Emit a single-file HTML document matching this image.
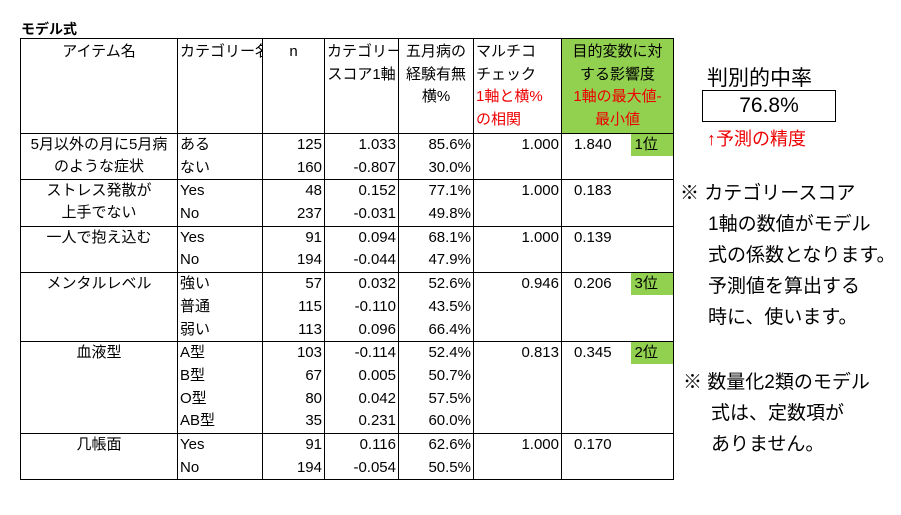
<!DOCTYPE html>
<html><head><meta charset="utf-8"><style>
body{margin:0;width:901px;height:515px;background:#fff;position:relative;overflow:hidden;font-family:"Liberation Sans","Noto Sans CJK JP",sans-serif;color:#000}
.t{position:absolute;left:20px;top:38px;width:653px;border-collapse:collapse;font-size:15px;table-layout:fixed}
.t td{border-left:1.5px solid #000;border-right:1.5px solid #000;padding:0 2px;height:22.7px;line-height:22px;white-space:nowrap;vertical-align:top;overflow:hidden}
.t thead td{border-bottom:1.5px solid #000;border-top:1.5px solid #000;height:92px;line-height:22.5px;padding-top:2px}
.t tbody{border-top:1.5px solid #000;border-bottom:1.5px solid #000}
.c{text-align:center}.r{text-align:right}.red{color:#e00}
.g{background:#92d050}
.rk{display:inline-block;background:#92d050;width:40px;text-align:left;padding-left:4px}
</style></head><body>
<div style="position:absolute;left:21px;top:19px;font-weight:bold;font-size:14px">モデル式</div>
<table class="t">
<colgroup><col style="width:157px"><col style="width:85px"><col style="width:62px"><col style="width:74px"><col style="width:75px"><col style="width:88px"><col style="width:112px"></colgroup>
<thead><tr>
<td class="c">アイテム名</td><td>カテゴリー名</td><td class="c">n</td><td class="c">カテゴリー<br>スコア1軸</td><td class="c">五月病の<br>経験有無<br>横%</td><td>マルチコ<br>チェック<br><span class="red">1軸と横%<br>の相関</span></td><td class="c g">目的変数に対<br>する影響度<br><span class="red">1軸の最大値-<br>最小値</span></td></tr></thead>
<tbody><tr><td rowspan="2" class="c">5月以外の月に5月病<br>のような症状</td><td>ある</td><td class="r">125</td><td class="r">1.033</td><td class="r">85.6%</td><td rowspan="2" class="r">1.000</td><td rowspan="2" style="padding-left:12px">1.840<span class="rk" style="margin-left:19px">1位</span></td></tr>
<tr><td>ない</td><td class="r">160</td><td class="r">-0.807</td><td class="r">30.0%</td></tr></tbody>
<tbody><tr><td rowspan="2" class="c">ストレス発散が<br>上手でない</td><td>Yes</td><td class="r">48</td><td class="r">0.152</td><td class="r">77.1%</td><td rowspan="2" class="r">1.000</td><td rowspan="2" style="padding-left:12px">0.183</td></tr>
<tr><td>No</td><td class="r">237</td><td class="r">-0.031</td><td class="r">49.8%</td></tr></tbody>
<tbody><tr><td rowspan="2" class="c">一人で抱え込む</td><td>Yes</td><td class="r">91</td><td class="r">0.094</td><td class="r">68.1%</td><td rowspan="2" class="r">1.000</td><td rowspan="2" style="padding-left:12px">0.139</td></tr>
<tr><td>No</td><td class="r">194</td><td class="r">-0.044</td><td class="r">47.9%</td></tr></tbody>
<tbody><tr><td rowspan="3" class="c">メンタルレベル</td><td>強い</td><td class="r">57</td><td class="r">0.032</td><td class="r">52.6%</td><td rowspan="3" class="r">0.946</td><td rowspan="3" style="padding-left:12px">0.206<span class="rk" style="margin-left:19px">3位</span></td></tr>
<tr><td>普通</td><td class="r">115</td><td class="r">-0.110</td><td class="r">43.5%</td></tr>
<tr><td>弱い</td><td class="r">113</td><td class="r">0.096</td><td class="r">66.4%</td></tr></tbody>
<tbody><tr><td rowspan="4" class="c">血液型</td><td>A型</td><td class="r">103</td><td class="r">-0.114</td><td class="r">52.4%</td><td rowspan="4" class="r">0.813</td><td rowspan="4" style="padding-left:12px">0.345<span class="rk" style="margin-left:19px">2位</span></td></tr>
<tr><td>B型</td><td class="r">67</td><td class="r">0.005</td><td class="r">50.7%</td></tr>
<tr><td>O型</td><td class="r">80</td><td class="r">0.042</td><td class="r">57.5%</td></tr>
<tr><td>AB型</td><td class="r">35</td><td class="r">0.231</td><td class="r">60.0%</td></tr></tbody>
<tbody><tr><td rowspan="2" class="c">几帳面</td><td>Yes</td><td class="r">91</td><td class="r">0.116</td><td class="r">62.6%</td><td rowspan="2" class="r">1.000</td><td rowspan="2" style="padding-left:12px">0.170</td></tr>
<tr><td>No</td><td class="r">194</td><td class="r">-0.054</td><td class="r">50.5%</td></tr></tbody>
</table>
<div style="position:absolute;left:707px;top:62px;font-size:21px">判別的中率</div>
<div style="position:absolute;left:702px;top:90px;width:132px;height:30px;border:1.5px solid #000;text-align:center;font-size:21px;line-height:30px">76.8%</div>
<div style="position:absolute;left:707px;top:125px;font-size:18px;color:#e00">↑予測の精度</div>
<div style="position:absolute;left:680px;top:178px;font-size:19px;line-height:31px">※ カテゴリースコア<br><span style="padding-left:28px">1軸の数値がモデル</span><br><span style="padding-left:28px">式の係数となります。</span><br><span style="padding-left:28px">予測値を算出する</span><br><span style="padding-left:28px">時に、使います。</span></div>
<div style="position:absolute;left:683px;top:367px;font-size:19px;line-height:31px">※ 数量化2類のモデル<br><span style="padding-left:28px">式は、定数項が</span><br><span style="padding-left:28px">ありません。</span></div>
</body></html>
